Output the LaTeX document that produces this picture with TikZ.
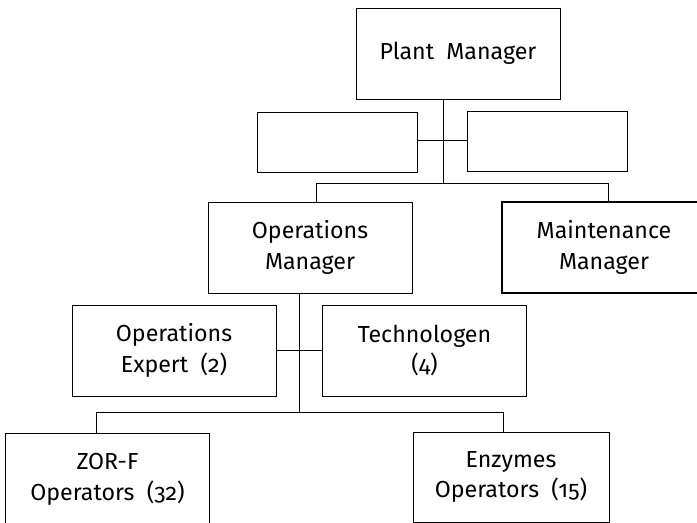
\documentclass[tikz,border=0pt]{standalone}
\usepackage{fontspec}
\setmainfont[Numbers=OldStyle]{Fira Sans}
\usetikzlibrary{calc}
\begin{document}
\begin{tikzpicture}[x=0.025cm, y=-0.025cm,
  post/.style={draw=black, line width=0.7pt, rectangle, align=center,
    minimum width=204*0.025cm, minimum height=91*0.025cm, inner sep=0pt,
    font=\fontsize{16.5}{22}\selectfont},
  staff/.style={post, minimum width=160*0.025cm, minimum height=60*0.025cm},
  line/.style={draw=black, line width=0.7pt}]
\useasboundingbox (0,0) rectangle (697,523);
\clip (0,0) rectangle (697,523);
% top level
\node [post] (pm) at (458,53.5) {\raisebox{4pt}{Plant\ \ Manager}};
\node [staff] (st1) at (337.5,142.5) {};
\node [staff] (st2) at (547.5,141) {};
% managers
\node [post] (om) at (310,247.5) {Operations\\Manager};
\node [post, line width=1.3pt] (mm) at (604,247.5) {Maintenance\\Manager};
% staff of operations
\node [post] (oe) at (174,350.5) {Operations\\Expert\ \ (2)};
\node [post] (tg) at (424.5,350.5) {Technologen\\(4)};
% operators
\node [post] (zf) at (107.5,479) {ZOR-F\\Operators\ \ (32)};
\node [post, minimum width=196*0.025cm, minimum height=90*0.025cm] (ez) at (511,477) {Enzymes\\Operators\ \ (15)};
% connectors
\coordinate (j0) at (443,140);
\coordinate (j1) at (443,183);
\coordinate (j1l) at (316,183);
\coordinate (j1r) at (608,183);
\draw [line] (pm.south -| j1) -- (j1);
\draw [line] (st1.east |- j0) -- (st2.west |- j0);
\draw [line] (om.north -| j1l) -- (j1l) -- (j1r) -- (mm.north -| j1r);
\coordinate (j2) at (299,412);
\coordinate (j2l) at (96,412);
\coordinate (j2r) at (503,412);
\draw [line] (om.south -| j2) -- (j2);
\draw [line] (oe.east) -- (tg.west);
\draw [line] (zf.north -| j2l) -- (j2l) -- (j2r) -- (ez.north -| j2r);
\end{tikzpicture}
\end{document}
